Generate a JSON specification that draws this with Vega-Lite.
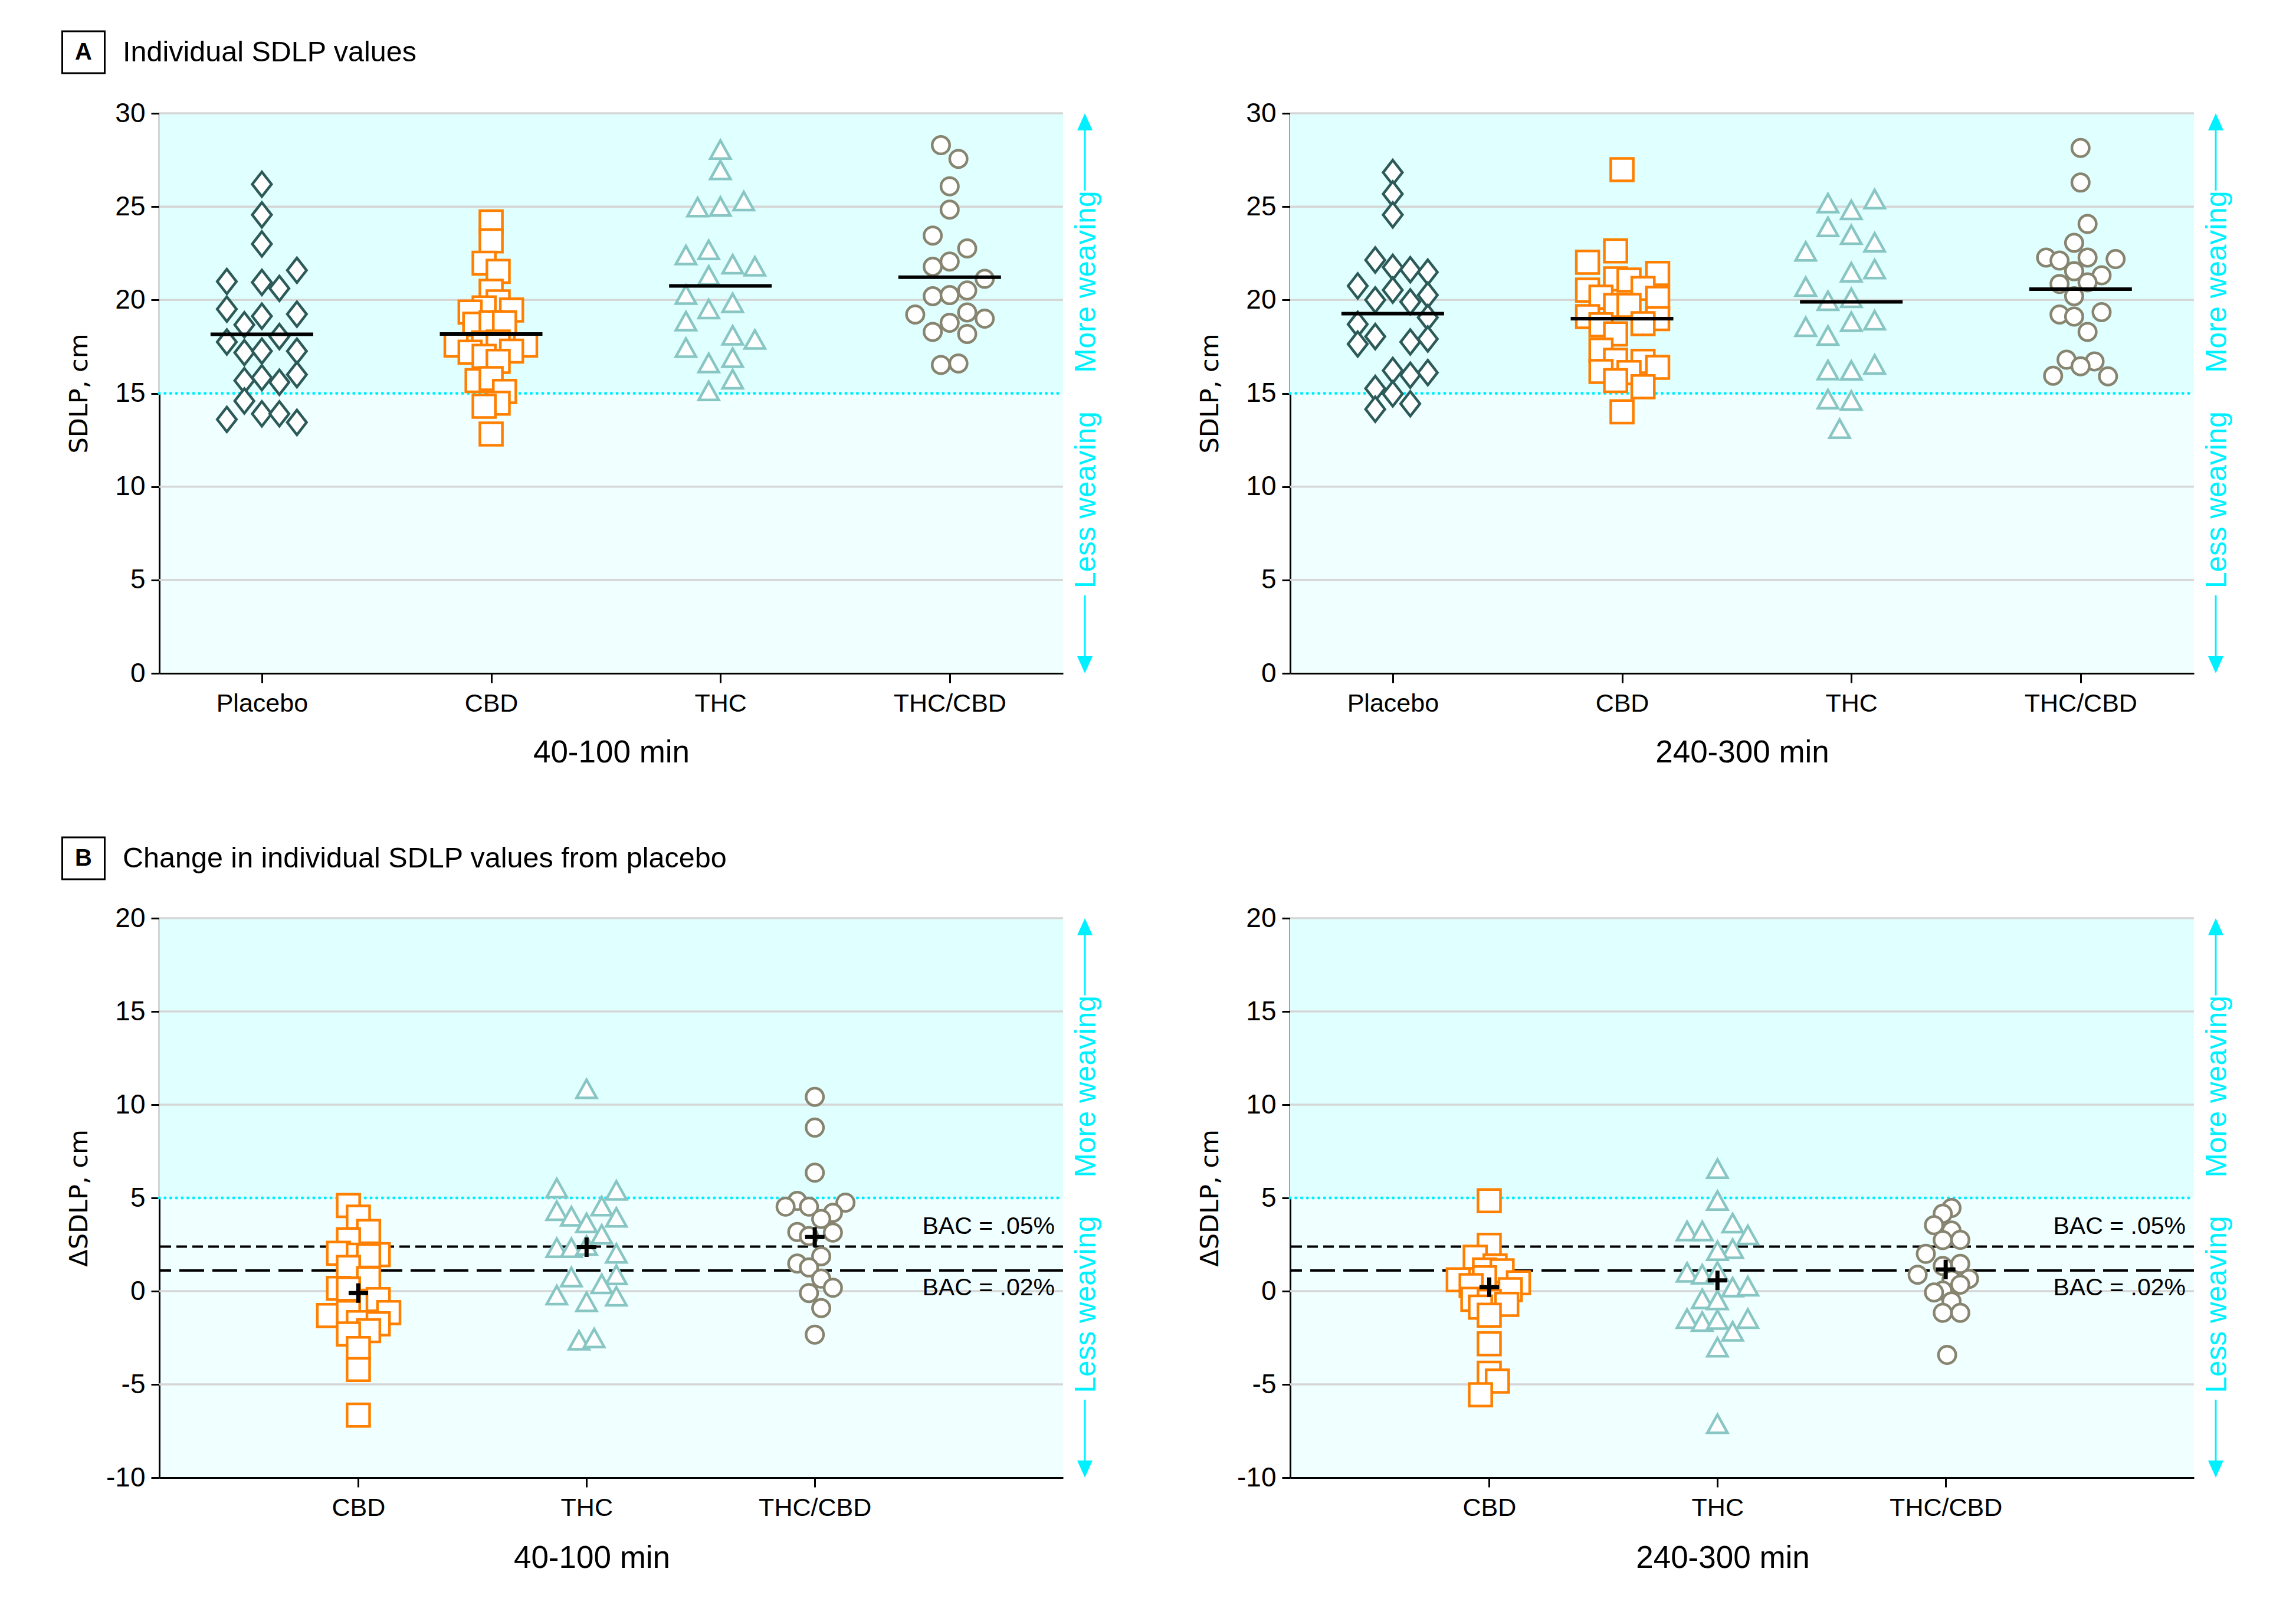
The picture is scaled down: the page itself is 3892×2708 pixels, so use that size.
{
"$schema": "https://vega.github.io/schema/vega-lite/v6.json",
"background": "white",
"padding": {"left": 104, "top": 51, "right": 0, "bottom": 0},
"config": {
  "font": "Liberation Sans",
  "view": {"stroke": null},
  "axis": {"domainColor": "black", "domainWidth": 3, "tickColor": "black", "tickWidth": 3, "labelColor": "black", "labelFont": "Liberation Sans", "labelLimit": 0, "titleColor": "black", "titleFontWeight": "normal", "grid": false},
  "axisY": {"tickSize": 14, "labelPadding": 10, "labelFontSize": 46, "labelExpr": "'' + datum.value", "titleFont": "DejaVu Sans", "titleFontSize": 43, "titleX": -136, "titleBaseline": "middle"},
  "axisX": {"tickSize": 16, "labelPadding": 14, "labelFontSize": 43, "labelAngle": 0, "titleFont": "Liberation Sans", "titleFontSize": 53, "titlePadding": 35}
},
"datasets": {
  "gridA": [{"g": 5}, {"g": 10}, {"g": 20}, {"g": 25}, {"g": 30}],
  "gridB": [{"g": -5}, {"g": 0}, {"g": 10}, {"g": 15}, {"g": 20}],
  "aE": [
    {"c":"Placebo","v":26.2,"j":0},{"c":"Placebo","v":24.56,"j":0},{"c":"Placebo","v":23.0,"j":0},{"c":"Placebo","v":21.59,"j":6},{"c":"Placebo","v":20.99,"j":-6},{"c":"Placebo","v":20.94,"j":0},{"c":"Placebo","v":20.62,"j":3},{"c":"Placebo","v":19.51,"j":-6},{"c":"Placebo","v":19.24,"j":6},{"c":"Placebo","v":19.13,"j":0},{"c":"Placebo","v":18.67,"j":-3},{"c":"Placebo","v":18.04,"j":3},{"c":"Placebo","v":17.75,"j":-6},{"c":"Placebo","v":17.18,"j":-3},{"c":"Placebo","v":17.26,"j":0},{"c":"Placebo","v":17.26,"j":6},{"c":"Placebo","v":16.0,"j":6},{"c":"Placebo","v":15.84,"j":0},{"c":"Placebo","v":15.68,"j":-3},{"c":"Placebo","v":15.59,"j":3},{"c":"Placebo","v":14.59,"j":-3},{"c":"Placebo","v":13.6,"j":-6},{"c":"Placebo","v":13.9,"j":0},{"c":"Placebo","v":13.9,"j":3},{"c":"Placebo","v":13.44,"j":6},
    {"c":"CBD","v":24.18,"j":0},{"c":"CBD","v":23.17,"j":0},{"c":"CBD","v":21.97,"j":-1.2},{"c":"CBD","v":21.53,"j":1.2},{"c":"CBD","v":20.47,"j":0},{"c":"CBD","v":19.9,"j":1.2},{"c":"CBD","v":19.57,"j":-1.2},{"c":"CBD","v":19.46,"j":3.5},{"c":"CBD","v":19.35,"j":-3.6},{"c":"CBD","v":18.7,"j":-2.8},{"c":"CBD","v":18.78,"j":0},{"c":"CBD","v":18.78,"j":2.3},{"c":"CBD","v":17.7,"j":-1.3},{"c":"CBD","v":17.75,"j":1.2},{"c":"CBD","v":17.58,"j":-6},{"c":"CBD","v":17.58,"j":5.9},{"c":"CBD","v":17.2,"j":-3.6},{"c":"CBD","v":17.26,"j":3.5},{"c":"CBD","v":16.98,"j":-1.2},{"c":"CBD","v":16.71,"j":1.2},{"c":"CBD","v":15.68,"j":-2.4},{"c":"CBD","v":15.79,"j":0},{"c":"CBD","v":15.1,"j":2.3},{"c":"CBD","v":14.47,"j":1.2},{"c":"CBD","v":14.31,"j":-1.2},{"c":"CBD","v":12.82,"j":0},
    {"c":"THC","v":28.03,"j":0},{"c":"THC","v":26.94,"j":0},{"c":"THC","v":24.95,"j":-3.9},{"c":"THC","v":24.98,"j":0},{"c":"THC","v":25.27,"j":4},{"c":"THC","v":22.38,"j":-5.9},{"c":"THC","v":22.66,"j":-2},{"c":"THC","v":21.89,"j":2.1},{"c":"THC","v":21.78,"j":5.9},{"c":"THC","v":21.29,"j":-2},{"c":"THC","v":20.26,"j":-5.9},{"c":"THC","v":19.49,"j":-2},{"c":"THC","v":19.82,"j":2.1},{"c":"THC","v":18.84,"j":-5.9},{"c":"THC","v":18.08,"j":2.1},{"c":"THC","v":17.86,"j":5.9},{"c":"THC","v":17.42,"j":-5.9},{"c":"THC","v":16.6,"j":-2},{"c":"THC","v":16.88,"j":2.1},{"c":"THC","v":15.73,"j":2.1},{"c":"THC","v":15.1,"j":-2},
    {"c":"THC/CBD","v":28.29,"j":-1.5},{"c":"THC/CBD","v":27.56,"j":1.5},{"c":"THC/CBD","v":26.09,"j":0},{"c":"THC/CBD","v":24.84,"j":0},{"c":"THC/CBD","v":23.45,"j":-2.9},{"c":"THC/CBD","v":22.76,"j":3},{"c":"THC/CBD","v":22.06,"j":0},{"c":"THC/CBD","v":21.78,"j":-2.9},{"c":"THC/CBD","v":21.13,"j":6},{"c":"THC/CBD","v":20.2,"j":-2.9},{"c":"THC/CBD","v":20.26,"j":0},{"c":"THC/CBD","v":20.51,"j":3},{"c":"THC/CBD","v":19.22,"j":-5.9},{"c":"THC/CBD","v":19.33,"j":3},{"c":"THC/CBD","v":19.0,"j":6},{"c":"THC/CBD","v":18.78,"j":0},{"c":"THC/CBD","v":18.29,"j":-2.9},{"c":"THC/CBD","v":18.18,"j":3},{"c":"THC/CBD","v":16.52,"j":-1.5},{"c":"THC/CBD","v":16.6,"j":1.5}
  ],
  "aL": [
    {"c":"Placebo","v":26.83,"j":0},{"c":"Placebo","v":25.68,"j":0},{"c":"Placebo","v":24.56,"j":0},{"c":"Placebo","v":22.14,"j":-3},{"c":"Placebo","v":21.75,"j":0},{"c":"Placebo","v":21.62,"j":3},{"c":"Placebo","v":21.49,"j":6},{"c":"Placebo","v":20.75,"j":-6},{"c":"Placebo","v":20.53,"j":0},{"c":"Placebo","v":20.26,"j":6},{"c":"Placebo","v":20.0,"j":-3},{"c":"Placebo","v":19.9,"j":3},{"c":"Placebo","v":19.06,"j":6},{"c":"Placebo","v":18.7,"j":-6},{"c":"Placebo","v":18.04,"j":-3},{"c":"Placebo","v":17.64,"j":-6},{"c":"Placebo","v":17.75,"j":3},{"c":"Placebo","v":17.91,"j":6},{"c":"Placebo","v":16.22,"j":0},{"c":"Placebo","v":15.97,"j":3},{"c":"Placebo","v":16.11,"j":6},{"c":"Placebo","v":15.26,"j":-3},{"c":"Placebo","v":14.97,"j":0},{"c":"Placebo","v":14.15,"j":-3},{"c":"Placebo","v":14.44,"j":3},
    {"c":"CBD","v":26.98,"j":0},{"c":"CBD","v":22.63,"j":-1.1},{"c":"CBD","v":22.02,"j":-5.9},{"c":"CBD","v":21.42,"j":6.1},{"c":"CBD","v":21.13,"j":-1.1},{"c":"CBD","v":21.07,"j":1.2},{"c":"CBD","v":20.53,"j":-5.9},{"c":"CBD","v":20.62,"j":3.6},{"c":"CBD","v":20.15,"j":-3.6},{"c":"CBD","v":20.09,"j":6.1},{"c":"CBD","v":19.71,"j":-1.1},{"c":"CBD","v":19.71,"j":1.2},{"c":"CBD","v":19.11,"j":-5.9},{"c":"CBD","v":19.0,"j":6.1},{"c":"CBD","v":18.73,"j":3.6},{"c":"CBD","v":18.67,"j":-3.6},{"c":"CBD","v":18.18,"j":-1.1},{"c":"CBD","v":17.31,"j":-3.6},{"c":"CBD","v":16.77,"j":-1.1},{"c":"CBD","v":16.71,"j":3.6},{"c":"CBD","v":16.39,"j":6.1},{"c":"CBD","v":16.17,"j":-3.6},{"c":"CBD","v":16.11,"j":1.2},{"c":"CBD","v":15.68,"j":-1.1},{"c":"CBD","v":15.35,"j":3.6},{"c":"CBD","v":14.01,"j":0},
    {"c":"THC","v":25.16,"j":-4},{"c":"THC","v":24.8,"j":0},{"c":"THC","v":25.38,"j":4},{"c":"THC","v":23.89,"j":-4},{"c":"THC","v":23.47,"j":0},{"c":"THC","v":23.06,"j":4},{"c":"THC","v":22.58,"j":-7.8},{"c":"THC","v":21.46,"j":0},{"c":"THC","v":21.63,"j":4},{"c":"THC","v":20.69,"j":-7.8},{"c":"THC","v":19.93,"j":-4},{"c":"THC","v":20.09,"j":0},{"c":"THC","v":18.54,"j":-7.8},{"c":"THC","v":18.07,"j":-4},{"c":"THC","v":18.81,"j":0},{"c":"THC","v":18.89,"j":4},{"c":"THC","v":16.22,"j":-4},{"c":"THC","v":16.2,"j":0},{"c":"THC","v":16.52,"j":4},{"c":"THC","v":14.66,"j":-4},{"c":"THC","v":14.59,"j":0},{"c":"THC","v":13.08,"j":-2},
    {"c":"THC/CBD","v":28.14,"j":0},{"c":"THC/CBD","v":26.29,"j":0},{"c":"THC/CBD","v":24.07,"j":1.2},{"c":"THC/CBD","v":23.06,"j":-1.1},{"c":"THC/CBD","v":22.27,"j":-5.9},{"c":"THC/CBD","v":22.11,"j":-3.6},{"c":"THC/CBD","v":22.27,"j":1.2},{"c":"THC/CBD","v":22.19,"j":6},{"c":"THC/CBD","v":21.54,"j":-1.1},{"c":"THC/CBD","v":21.32,"j":3.6},{"c":"THC/CBD","v":20.86,"j":-3.6},{"c":"THC/CBD","v":20.94,"j":1.2},{"c":"THC/CBD","v":20.2,"j":-1.1},{"c":"THC/CBD","v":19.22,"j":-3.6},{"c":"THC/CBD","v":19.11,"j":-1.1},{"c":"THC/CBD","v":19.35,"j":3.6},{"c":"THC/CBD","v":18.29,"j":1.2},{"c":"THC/CBD","v":16.8,"j":-2.4},{"c":"THC/CBD","v":16.71,"j":2.4},{"c":"THC/CBD","v":16.45,"j":0},{"c":"THC/CBD","v":15.94,"j":-4.7},{"c":"THC/CBD","v":15.91,"j":4.7}
  ],
  "bE": [
    {"c":"CBD","v":4.59,"j":-1.7},{"c":"CBD","v":3.97,"j":0},{"c":"CBD","v":3.2,"j":1.75},{"c":"CBD","v":2.76,"j":-1.7},{"c":"CBD","v":2.03,"j":-3.4},{"c":"CBD","v":1.96,"j":3.4},{"c":"CBD","v":1.93,"j":0},{"c":"CBD","v":1.9,"j":1.75},{"c":"CBD","v":1.27,"j":-1.7},{"c":"CBD","v":0.67,"j":1.75},{"c":"CBD","v":0.15,"j":-3.4},{"c":"CBD","v":0.12,"j":-1.7},{"c":"CBD","v":-0.45,"j":3.4},{"c":"CBD","v":-1.31,"j":-5.1},{"c":"CBD","v":-1.15,"j":-1.7},{"c":"CBD","v":-1.15,"j":5.2},{"c":"CBD","v":-1.69,"j":0},{"c":"CBD","v":-1.75,"j":3.4},{"c":"CBD","v":-2.12,"j":1.75},{"c":"CBD","v":-2.3,"j":-1.7},{"c":"CBD","v":-3.08,"j":0},{"c":"CBD","v":-4.2,"j":0},{"c":"CBD","v":-6.65,"j":0},
    {"c":"THC","v":10.82,"j":0},{"c":"THC","v":5.5,"j":-5.1},{"c":"THC","v":5.38,"j":5.1},{"c":"THC","v":4.53,"j":2.6},{"c":"THC","v":4.29,"j":-5.1},{"c":"THC","v":3.99,"j":-2.6},{"c":"THC","v":3.93,"j":5.1},{"c":"THC","v":3.63,"j":0},{"c":"THC","v":3.02,"j":2.6},{"c":"THC","v":2.3,"j":-5.1},{"c":"THC","v":2.3,"j":-2.6},{"c":"THC","v":2.42,"j":0},{"c":"THC","v":2.0,"j":5.1},{"c":"THC","v":0.73,"j":-2.6},{"c":"THC","v":0.85,"j":5.1},{"c":"THC","v":0.36,"j":2.6},{"c":"THC","v":-0.24,"j":-5.1},{"c":"THC","v":-0.3,"j":5.1},{"c":"THC","v":-0.6,"j":0},{"c":"THC","v":-2.66,"j":-1.3},{"c":"THC","v":-2.54,"j":1.3},
    {"c":"THC/CBD","v":10.42,"j":0},{"c":"THC/CBD","v":8.77,"j":0},{"c":"THC/CBD","v":6.35,"j":0},{"c":"THC/CBD","v":4.84,"j":-3},{"c":"THC/CBD","v":4.53,"j":-5},{"c":"THC/CBD","v":4.53,"j":-1},{"c":"THC/CBD","v":4.75,"j":5.25},{"c":"THC/CBD","v":4.2,"j":3.1},{"c":"THC/CBD","v":3.87,"j":1.1},{"c":"THC/CBD","v":3.17,"j":-3},{"c":"THC/CBD","v":3.14,"j":3.1},{"c":"THC/CBD","v":2.95,"j":-1},{"c":"THC/CBD","v":1.87,"j":1.1},{"c":"THC/CBD","v":1.48,"j":-3},{"c":"THC/CBD","v":1.27,"j":-1},{"c":"THC/CBD","v":0.67,"j":1.1},{"c":"THC/CBD","v":0.18,"j":3.1},{"c":"THC/CBD","v":-0.1,"j":-1},{"c":"THC/CBD","v":-0.91,"j":1.1},{"c":"THC/CBD","v":-2.33,"j":0}
  ],
  "bL": [
    {"c":"CBD","v":4.85,"j":0},{"c":"CBD","v":2.46,"j":0},{"c":"CBD","v":1.82,"j":-2.4},{"c":"CBD","v":1.35,"j":1},{"c":"CBD","v":1.14,"j":-0.8},{"c":"CBD","v":1.09,"j":2.2},{"c":"CBD","v":0.61,"j":-5.3},{"c":"CBD","v":0.72,"j":-0.8},{"c":"CBD","v":0.45,"j":5},{"c":"CBD","v":0.3,"j":-3.1},{"c":"CBD","v":0.08,"j":3.6},{"c":"CBD","v":-0.44,"j":-2.8},{"c":"CBD","v":-0.55,"j":0},{"c":"CBD","v":-0.71,"j":3},{"c":"CBD","v":-0.86,"j":-1.5},{"c":"CBD","v":-1.29,"j":0},{"c":"CBD","v":-2.82,"j":0},{"c":"CBD","v":-4.4,"j":0},{"c":"CBD","v":-4.82,"j":1.4},{"c":"CBD","v":-5.56,"j":-1.5},
    {"c":"THC","v":6.54,"j":0},{"c":"THC","v":4.83,"j":0},{"c":"THC","v":3.62,"j":2.6},{"c":"THC","v":3.2,"j":-5.2},{"c":"THC","v":3.2,"j":-2.6},{"c":"THC","v":2.99,"j":5.2},{"c":"THC","v":2.25,"j":2.6},{"c":"THC","v":2.14,"j":0},{"c":"THC","v":0.98,"j":-5.2},{"c":"THC","v":0.88,"j":-2.6},{"c":"THC","v":1.03,"j":0},{"c":"THC","v":0.19,"j":2.6},{"c":"THC","v":0.24,"j":5.2},{"c":"THC","v":-0.44,"j":-2.6},{"c":"THC","v":-0.5,"j":0},{"c":"THC","v":-1.5,"j":-5.2},{"c":"THC","v":-1.66,"j":-2.6},{"c":"THC","v":-1.55,"j":0},{"c":"THC","v":-1.5,"j":5.2},{"c":"THC","v":-2.18,"j":2.6},{"c":"THC","v":-3.03,"j":0},{"c":"THC","v":-7.14,"j":0},
    {"c":"THC/CBD","v":4.46,"j":1},{"c":"THC/CBD","v":4.15,"j":-0.5},{"c":"THC/CBD","v":3.54,"j":-2},{"c":"THC/CBD","v":3.25,"j":1},{"c":"THC/CBD","v":2.75,"j":2.5},{"c":"THC/CBD","v":2.74,"j":-0.5},{"c":"THC/CBD","v":2.0,"j":-3.4},{"c":"THC/CBD","v":1.46,"j":2.5},{"c":"THC/CBD","v":1.35,"j":-0.5},{"c":"THC/CBD","v":0.88,"j":-4.8},{"c":"THC/CBD","v":0.66,"j":4},{"c":"THC/CBD","v":0.61,"j":1},{"c":"THC/CBD","v":0.35,"j":2.5},{"c":"THC/CBD","v":0.03,"j":-0.5},{"c":"THC/CBD","v":-0.07,"j":-2},{"c":"THC/CBD","v":-0.55,"j":1},{"c":"THC/CBD","v":-1.16,"j":-0.5},{"c":"THC/CBD","v":-1.16,"j":2.5},{"c":"THC/CBD","v":-3.42,"j":0.25}
  ],
  "aEm": [{"c":"Placebo","v":18.16},{"c":"CBD","v":18.18},{"c":"THC","v":20.75},{"c":"THC/CBD","v":21.22}],
  "aLm": [{"c":"Placebo","v":19.27},{"c":"CBD","v":19.0},{"c":"THC","v":19.9},{"c":"THC/CBD","v":20.58}],
  "bEm": [{"c":"CBD","v":-0.1},{"c":"THC","v":2.36},{"c":"THC/CBD","v":2.9}],
  "bLm": [{"c":"CBD","v":0.21},{"c":"THC","v":0.58},{"c":"THC/CBD","v":1.16}]
},
"spacing": 115,
"vconcat": [
 {"spacing": 43, "vconcat": [
  {"width": 1532, "height": 71, "layer": [
    {"data": {"values": [{}]}, "mark": {"type": "rect", "filled": false, "stroke": "black", "strokeWidth": 3, "x": -164.5, "x2": -92.5, "y": 0, "y2": 71}, "encoding": {}},
    {"data": {"values": [{"t": "A"}]}, "mark": {"type": "text", "x": -128.5, "y": 36, "align": "center", "baseline": "middle", "fontSize": 40, "fontWeight": "bold", "color": "black"}, "encoding": {"text": {"field": "t"}}},
    {"data": {"values": [{"t": "Individual SDLP values"}]}, "mark": {"type": "text", "x": -62, "y": 36, "align": "left", "baseline": "middle", "fontSize": 48.5, "color": "black"}, "encoding": {"text": {"field": "t"}}}
  ]},
  {"spacing": 163, "hconcat": [
   {"width": 1532, "height": 949, "view": {"fill": "azure", "stroke": null}, "layer": [
     {"data": {"values": [{}]}, "mark": {"type": "rect", "color": "lightcyan"}, "encoding": {"y": {"datum": 15, "type": "quantitative", "scale": {"domain": [0, 30], "nice": false, "zero": false}}, "y2": {"datum": 30}}},
     {"data": {"name": "gridA"}, "mark": {"type": "rule", "color": "#d6d6d6", "strokeWidth": 3.5}, "encoding": {"y": {"field": "g", "type": "quantitative", "title": "SDLP, cm"}}},
     {"data": {"values": [{}]}, "mark": {"type": "rule", "color": "#00f0ff", "strokeWidth": 5, "strokeDash": [0.1, 9.6], "strokeCap": "round", "x": 0, "x2": "width", "x2Offset": 61}, "encoding": {"y": {"datum": 15, "type": "quantitative"}}},
     {"data": {"name": "aE"}, "mark": {"type": "point", "filled": true, "fill": "white", "fillOpacity": 1, "opacity": 1, "strokeWidth": 4.5},
      "encoding": {
        "x": {"field": "c", "type": "nominal", "scale": {"type": "point", "domain": ["Placebo", "CBD", "THC", "THC/CBD"], "padding": 0.471, "align": 0.475}, "axis": {"title": "40-100 min"}},
        "xOffset": {"field": "j", "type": "quantitative", "scale": {"domain": [-10, 10], "range": [-99, 99]}},
        "y": {"field": "v", "type": "quantitative", "axis": {"title": "SDLP, cm", "values": [0, 5, 10, 15, 20, 25, 30]}},
        "shape": {"field": "c", "type": "nominal", "scale": {"domain": ["Placebo", "CBD", "THC", "THC/CBD"], "range": ["M0,-1L0.78,0L0,1L-0.78,0Z", "M-1,-1L1,-1L1,1L-1,1Z", "M0,-0.95L1,0.85L-1,0.85Z", "circle"]}, "legend": null},
        "stroke": {"field": "c", "type": "nominal", "scale": {"domain": ["Placebo", "CBD", "THC", "THC/CBD"], "range": ["#2b5a58", "#ff8000", "#88c6c4", "#878470"]}, "legend": null},
        "size": {"field": "c", "type": "nominal", "scale": {"domain": ["Placebo", "CBD", "THC", "THC/CBD"], "range": [1750, 870, 1350, 920]}, "legend": null}
      }},
     {"data": {"name": "aEm"}, "mark": {"type": "tick", "color": "black", "opacity": 1, "size": 174, "thickness": 6},
      "encoding": {"x": {"field": "c", "type": "nominal", "scale": {"type": "point", "domain": ["Placebo", "CBD", "THC", "THC/CBD"], "padding": 0.471, "align": 0.475}, "axis": {"title": "40-100 min"}}, "y": {"field": "v", "type": "quantitative", "title": "SDLP, cm"}}},
     {"data": {"values": [{}]}, "mark": {"type": "text", "text": "More weaving", "angle": 270, "align": "center", "baseline": "middle", "fontSize": 49.5, "color": "#00f0ff", "x": "width", "xOffset": 40}, "encoding": {"y": {"datum": 20.97, "type": "quantitative"}}},
     {"data": {"values": [{}]}, "mark": {"type": "text", "text": "Less weaving", "angle": 270, "align": "center", "baseline": "middle", "fontSize": 49.5, "color": "#00f0ff", "x": "width", "xOffset": 40}, "encoding": {"y": {"datum": 9.29, "type": "quantitative"}}},
     {"data": {"values": [{}]}, "mark": {"type": "rule", "color": "#00f0ff", "strokeWidth": 3, "x": "width", "xOffset": 37}, "encoding": {"y": {"datum": 25.86, "type": "quantitative"}, "y2": {"datum": 29.5}}},
     {"data": {"values": [{}]}, "mark": {"type": "rule", "color": "#00f0ff", "strokeWidth": 3, "x": "width", "xOffset": 37}, "encoding": {"y": {"datum": 4.18, "type": "quantitative"}, "y2": {"datum": 0.5}}},
     {"data": {"values": [{}]}, "mark": {"type": "point", "shape": "M0,0L0.9,2L-0.9,2Z", "size": 841, "filled": true, "color": "#00f0ff", "opacity": 1, "x": "width", "xOffset": 37}, "encoding": {"y": {"datum": 30, "type": "quantitative"}}},
     {"data": {"values": [{}]}, "mark": {"type": "point", "shape": "M0,0L0.9,-2L-0.9,-2Z", "size": 841, "filled": true, "color": "#00f0ff", "opacity": 1, "x": "width", "xOffset": 37}, "encoding": {"y": {"datum": 0, "type": "quantitative"}}}
   ]},
   {"width": 1532, "height": 949, "view": {"fill": "azure", "stroke": null}, "layer": [
     {"data": {"values": [{}]}, "mark": {"type": "rect", "color": "lightcyan"}, "encoding": {"y": {"datum": 15, "type": "quantitative", "scale": {"domain": [0, 30], "nice": false, "zero": false}}, "y2": {"datum": 30}}},
     {"data": {"name": "gridA"}, "mark": {"type": "rule", "color": "#d6d6d6", "strokeWidth": 3.5}, "encoding": {"y": {"field": "g", "type": "quantitative", "title": "SDLP, cm"}}},
     {"data": {"values": [{}]}, "mark": {"type": "rule", "color": "#00f0ff", "strokeWidth": 5, "strokeDash": [0.1, 9.6], "strokeCap": "round", "x": 0, "x2": "width", "x2Offset": 61}, "encoding": {"y": {"datum": 15, "type": "quantitative"}}},
     {"data": {"name": "aL"}, "mark": {"type": "point", "filled": true, "fill": "white", "fillOpacity": 1, "opacity": 1, "strokeWidth": 4.5},
      "encoding": {
        "x": {"field": "c", "type": "nominal", "scale": {"type": "point", "domain": ["Placebo", "CBD", "THC", "THC/CBD"], "padding": 0.471, "align": 0.475}, "axis": {"title": "240-300 min"}},
        "xOffset": {"field": "j", "type": "quantitative", "scale": {"domain": [-10, 10], "range": [-99, 99]}},
        "y": {"field": "v", "type": "quantitative", "axis": {"title": "SDLP, cm", "values": [0, 5, 10, 15, 20, 25, 30]}},
        "shape": {"field": "c", "type": "nominal", "scale": {"domain": ["Placebo", "CBD", "THC", "THC/CBD"], "range": ["M0,-1L0.78,0L0,1L-0.78,0Z", "M-1,-1L1,-1L1,1L-1,1Z", "M0,-0.95L1,0.85L-1,0.85Z", "circle"]}, "legend": null},
        "stroke": {"field": "c", "type": "nominal", "scale": {"domain": ["Placebo", "CBD", "THC", "THC/CBD"], "range": ["#2b5a58", "#ff8000", "#88c6c4", "#878470"]}, "legend": null},
        "size": {"field": "c", "type": "nominal", "scale": {"domain": ["Placebo", "CBD", "THC", "THC/CBD"], "range": [1750, 870, 1350, 920]}, "legend": null}
      }},
     {"data": {"name": "aLm"}, "mark": {"type": "tick", "color": "black", "opacity": 1, "size": 174, "thickness": 6},
      "encoding": {"x": {"field": "c", "type": "nominal", "scale": {"type": "point", "domain": ["Placebo", "CBD", "THC", "THC/CBD"], "padding": 0.471, "align": 0.475}, "axis": {"title": "240-300 min"}}, "y": {"field": "v", "type": "quantitative", "title": "SDLP, cm"}}},
     {"data": {"values": [{}]}, "mark": {"type": "text", "text": "More weaving", "angle": 270, "align": "center", "baseline": "middle", "fontSize": 49.5, "color": "#00f0ff", "x": "width", "xOffset": 40}, "encoding": {"y": {"datum": 20.97, "type": "quantitative"}}},
     {"data": {"values": [{}]}, "mark": {"type": "text", "text": "Less weaving", "angle": 270, "align": "center", "baseline": "middle", "fontSize": 49.5, "color": "#00f0ff", "x": "width", "xOffset": 40}, "encoding": {"y": {"datum": 9.29, "type": "quantitative"}}},
     {"data": {"values": [{}]}, "mark": {"type": "rule", "color": "#00f0ff", "strokeWidth": 3, "x": "width", "xOffset": 37}, "encoding": {"y": {"datum": 25.86, "type": "quantitative"}, "y2": {"datum": 29.5}}},
     {"data": {"values": [{}]}, "mark": {"type": "rule", "color": "#00f0ff", "strokeWidth": 3, "x": "width", "xOffset": 37}, "encoding": {"y": {"datum": 4.18, "type": "quantitative"}, "y2": {"datum": 0.5}}},
     {"data": {"values": [{}]}, "mark": {"type": "point", "shape": "M0,0L0.9,2L-0.9,2Z", "size": 841, "filled": true, "color": "#00f0ff", "opacity": 1, "x": "width", "xOffset": 37}, "encoding": {"y": {"datum": 30, "type": "quantitative"}}},
     {"data": {"values": [{}]}, "mark": {"type": "point", "shape": "M0,0L0.9,-2L-0.9,-2Z", "size": 841, "filled": true, "color": "#00f0ff", "opacity": 1, "x": "width", "xOffset": 37}, "encoding": {"y": {"datum": 0, "type": "quantitative"}}}
   ]}
  ]}
 ]},
 {"spacing": 41, "vconcat": [
  {"width": 1532, "height": 71, "layer": [
    {"data": {"values": [{}]}, "mark": {"type": "rect", "filled": false, "stroke": "black", "strokeWidth": 3, "x": -164.5, "x2": -92.5, "y": 0, "y2": 71}, "encoding": {}},
    {"data": {"values": [{"t": "B"}]}, "mark": {"type": "text", "x": -128.5, "y": 36, "align": "center", "baseline": "middle", "fontSize": 40, "fontWeight": "bold", "color": "black"}, "encoding": {"text": {"field": "t"}}},
    {"data": {"values": [{"t": "Change in individual SDLP values from placebo"}]}, "mark": {"type": "text", "x": -62, "y": 36, "align": "left", "baseline": "middle", "fontSize": 48.5, "color": "black"}, "encoding": {"text": {"field": "t"}}}
  ]},
  {"spacing": 163, "hconcat": [
   {"width": 1532, "height": 948, "view": {"fill": "azure", "stroke": null}, "layer": [
     {"data": {"values": [{}]}, "mark": {"type": "rect", "color": "lightcyan"}, "encoding": {"y": {"datum": 5, "type": "quantitative", "scale": {"domain": [-10, 20], "nice": false, "zero": false}}, "y2": {"datum": 20}}},
     {"data": {"name": "gridB"}, "mark": {"type": "rule", "color": "#d6d6d6", "strokeWidth": 3.5}, "encoding": {"y": {"field": "g", "type": "quantitative", "title": "ΔSDLP, cm"}}},
     {"data": {"values": [{}]}, "mark": {"type": "rule", "color": "#00f0ff", "strokeWidth": 5, "strokeDash": [0.1, 9.6], "strokeCap": "round", "x": 0, "x2": "width", "x2Offset": 61}, "encoding": {"y": {"datum": 5, "type": "quantitative"}}},
     {"data": {"values": [{}]}, "mark": {"type": "rule", "color": "black", "strokeWidth": 4, "strokeDash": [18, 9]}, "encoding": {"y": {"datum": 2.39, "type": "quantitative"}}},
     {"data": {"values": [{}]}, "mark": {"type": "rule", "color": "black", "strokeWidth": 4, "strokeDash": [42, 14]}, "encoding": {"y": {"datum": 1.11, "type": "quantitative"}}},
     {"data": {"values": [{}]}, "mark": {"type": "text", "text": "BAC = .05%", "align": "right", "baseline": "middle", "fontSize": 41, "color": "black", "x": "width", "xOffset": -14}, "encoding": {"y": {"datum": 3.45, "type": "quantitative"}}},
     {"data": {"values": [{}]}, "mark": {"type": "text", "text": "BAC = .02%", "align": "right", "baseline": "middle", "fontSize": 41, "color": "black", "x": "width", "xOffset": -14}, "encoding": {"y": {"datum": 0.16, "type": "quantitative"}}},
     {"data": {"name": "bE"}, "mark": {"type": "point", "filled": true, "fill": "white", "fillOpacity": 1, "opacity": 1, "strokeWidth": 4.5},
      "encoding": {
        "x": {"field": "c", "type": "nominal", "scale": {"type": "point", "domain": ["CBD", "THC", "THC/CBD"], "padding": 0.98, "align": 0.445}, "axis": {"title": "40-100 min", "titleX": 733, "titlePadding": 37}},
        "xOffset": {"field": "j", "type": "quantitative", "scale": {"domain": [-10, 10], "range": [-99, 99]}},
        "y": {"field": "v", "type": "quantitative", "axis": {"title": "ΔSDLP, cm", "values": [-10, -5, 0, 5, 10, 15, 20]}},
        "shape": {"field": "c", "type": "nominal", "scale": {"domain": ["Placebo", "CBD", "THC", "THC/CBD"], "range": ["M0,-1L0.78,0L0,1L-0.78,0Z", "M-1,-1L1,-1L1,1L-1,1Z", "M0,-0.95L1,0.85L-1,0.85Z", "circle"]}, "legend": null},
        "stroke": {"field": "c", "type": "nominal", "scale": {"domain": ["Placebo", "CBD", "THC", "THC/CBD"], "range": ["#2b5a58", "#ff8000", "#88c6c4", "#878470"]}, "legend": null},
        "size": {"field": "c", "type": "nominal", "scale": {"domain": ["Placebo", "CBD", "THC", "THC/CBD"], "range": [1750, 870, 1350, 920]}, "legend": null}
      }},
     {"data": {"name": "bEm"}, "mark": {"type": "point", "shape": "M-1,0L1,0M0,-1L0,1", "size": 1089, "filled": false, "color": "black", "opacity": 1, "strokeWidth": 7},
      "encoding": {"x": {"field": "c", "type": "nominal", "scale": {"type": "point", "domain": ["CBD", "THC", "THC/CBD"], "padding": 0.98, "align": 0.445}, "axis": {"title": "40-100 min", "titleX": 733, "titlePadding": 37}}, "y": {"field": "v", "type": "quantitative", "title": "ΔSDLP, cm"}}},
     {"data": {"values": [{}]}, "mark": {"type": "text", "text": "More weaving", "angle": 270, "align": "center", "baseline": "middle", "fontSize": 49.5, "color": "#00f0ff", "x": "width", "xOffset": 40}, "encoding": {"y": {"datum": 10.97, "type": "quantitative"}}},
     {"data": {"values": [{}]}, "mark": {"type": "text", "text": "Less weaving", "angle": 270, "align": "center", "baseline": "middle", "fontSize": 49.5, "color": "#00f0ff", "x": "width", "xOffset": 40}, "encoding": {"y": {"datum": -0.71, "type": "quantitative"}}},
     {"data": {"values": [{}]}, "mark": {"type": "rule", "color": "#00f0ff", "strokeWidth": 3, "x": "width", "xOffset": 37}, "encoding": {"y": {"datum": 15.86, "type": "quantitative"}, "y2": {"datum": 19.5}}},
     {"data": {"values": [{}]}, "mark": {"type": "rule", "color": "#00f0ff", "strokeWidth": 3, "x": "width", "xOffset": 37}, "encoding": {"y": {"datum": -5.82, "type": "quantitative"}, "y2": {"datum": -9.5}}},
     {"data": {"values": [{}]}, "mark": {"type": "point", "shape": "M0,0L0.9,2L-0.9,2Z", "size": 841, "filled": true, "color": "#00f0ff", "opacity": 1, "x": "width", "xOffset": 37}, "encoding": {"y": {"datum": 20, "type": "quantitative"}}},
     {"data": {"values": [{}]}, "mark": {"type": "point", "shape": "M0,0L0.9,-2L-0.9,-2Z", "size": 841, "filled": true, "color": "#00f0ff", "opacity": 1, "x": "width", "xOffset": 37}, "encoding": {"y": {"datum": -10, "type": "quantitative"}}}
   ]},
   {"width": 1532, "height": 948, "view": {"fill": "azure", "stroke": null}, "layer": [
     {"data": {"values": [{}]}, "mark": {"type": "rect", "color": "lightcyan"}, "encoding": {"y": {"datum": 5, "type": "quantitative", "scale": {"domain": [-10, 20], "nice": false, "zero": false}}, "y2": {"datum": 20}}},
     {"data": {"name": "gridB"}, "mark": {"type": "rule", "color": "#d6d6d6", "strokeWidth": 3.5}, "encoding": {"y": {"field": "g", "type": "quantitative", "title": "ΔSDLP, cm"}}},
     {"data": {"values": [{}]}, "mark": {"type": "rule", "color": "#00f0ff", "strokeWidth": 5, "strokeDash": [0.1, 9.6], "strokeCap": "round", "x": 0, "x2": "width", "x2Offset": 61}, "encoding": {"y": {"datum": 5, "type": "quantitative"}}},
     {"data": {"values": [{}]}, "mark": {"type": "rule", "color": "black", "strokeWidth": 4, "strokeDash": [18, 9]}, "encoding": {"y": {"datum": 2.39, "type": "quantitative"}}},
     {"data": {"values": [{}]}, "mark": {"type": "rule", "color": "black", "strokeWidth": 4, "strokeDash": [42, 14]}, "encoding": {"y": {"datum": 1.11, "type": "quantitative"}}},
     {"data": {"values": [{}]}, "mark": {"type": "text", "text": "BAC = .05%", "align": "right", "baseline": "middle", "fontSize": 41, "color": "black", "x": "width", "xOffset": -14}, "encoding": {"y": {"datum": 3.45, "type": "quantitative"}}},
     {"data": {"values": [{}]}, "mark": {"type": "text", "text": "BAC = .02%", "align": "right", "baseline": "middle", "fontSize": 41, "color": "black", "x": "width", "xOffset": -14}, "encoding": {"y": {"datum": 0.16, "type": "quantitative"}}},
     {"data": {"name": "bL"}, "mark": {"type": "point", "filled": true, "fill": "white", "fillOpacity": 1, "opacity": 1, "strokeWidth": 4.5},
      "encoding": {
        "x": {"field": "c", "type": "nominal", "scale": {"type": "point", "domain": ["CBD", "THC", "THC/CBD"], "padding": 0.98, "align": 0.445}, "axis": {"title": "240-300 min", "titleX": 733, "titlePadding": 37}},
        "xOffset": {"field": "j", "type": "quantitative", "scale": {"domain": [-10, 10], "range": [-99, 99]}},
        "y": {"field": "v", "type": "quantitative", "axis": {"title": "ΔSDLP, cm", "values": [-10, -5, 0, 5, 10, 15, 20]}},
        "shape": {"field": "c", "type": "nominal", "scale": {"domain": ["Placebo", "CBD", "THC", "THC/CBD"], "range": ["M0,-1L0.78,0L0,1L-0.78,0Z", "M-1,-1L1,-1L1,1L-1,1Z", "M0,-0.95L1,0.85L-1,0.85Z", "circle"]}, "legend": null},
        "stroke": {"field": "c", "type": "nominal", "scale": {"domain": ["Placebo", "CBD", "THC", "THC/CBD"], "range": ["#2b5a58", "#ff8000", "#88c6c4", "#878470"]}, "legend": null},
        "size": {"field": "c", "type": "nominal", "scale": {"domain": ["Placebo", "CBD", "THC", "THC/CBD"], "range": [1750, 870, 1350, 920]}, "legend": null}
      }},
     {"data": {"name": "bLm"}, "mark": {"type": "point", "shape": "M-1,0L1,0M0,-1L0,1", "size": 1089, "filled": false, "color": "black", "opacity": 1, "strokeWidth": 7},
      "encoding": {"x": {"field": "c", "type": "nominal", "scale": {"type": "point", "domain": ["CBD", "THC", "THC/CBD"], "padding": 0.98, "align": 0.445}, "axis": {"title": "240-300 min", "titleX": 733, "titlePadding": 37}}, "y": {"field": "v", "type": "quantitative", "title": "ΔSDLP, cm"}}},
     {"data": {"values": [{}]}, "mark": {"type": "text", "text": "More weaving", "angle": 270, "align": "center", "baseline": "middle", "fontSize": 49.5, "color": "#00f0ff", "x": "width", "xOffset": 40}, "encoding": {"y": {"datum": 10.97, "type": "quantitative"}}},
     {"data": {"values": [{}]}, "mark": {"type": "text", "text": "Less weaving", "angle": 270, "align": "center", "baseline": "middle", "fontSize": 49.5, "color": "#00f0ff", "x": "width", "xOffset": 40}, "encoding": {"y": {"datum": -0.71, "type": "quantitative"}}},
     {"data": {"values": [{}]}, "mark": {"type": "rule", "color": "#00f0ff", "strokeWidth": 3, "x": "width", "xOffset": 37}, "encoding": {"y": {"datum": 15.86, "type": "quantitative"}, "y2": {"datum": 19.5}}},
     {"data": {"values": [{}]}, "mark": {"type": "rule", "color": "#00f0ff", "strokeWidth": 3, "x": "width", "xOffset": 37}, "encoding": {"y": {"datum": -5.82, "type": "quantitative"}, "y2": {"datum": -9.5}}},
     {"data": {"values": [{}]}, "mark": {"type": "point", "shape": "M0,0L0.9,2L-0.9,2Z", "size": 841, "filled": true, "color": "#00f0ff", "opacity": 1, "x": "width", "xOffset": 37}, "encoding": {"y": {"datum": 20, "type": "quantitative"}}},
     {"data": {"values": [{}]}, "mark": {"type": "point", "shape": "M0,0L0.9,-2L-0.9,-2Z", "size": 841, "filled": true, "color": "#00f0ff", "opacity": 1, "x": "width", "xOffset": 37}, "encoding": {"y": {"datum": -10, "type": "quantitative"}}}
   ]}
  ]}
 ]}
]
}
